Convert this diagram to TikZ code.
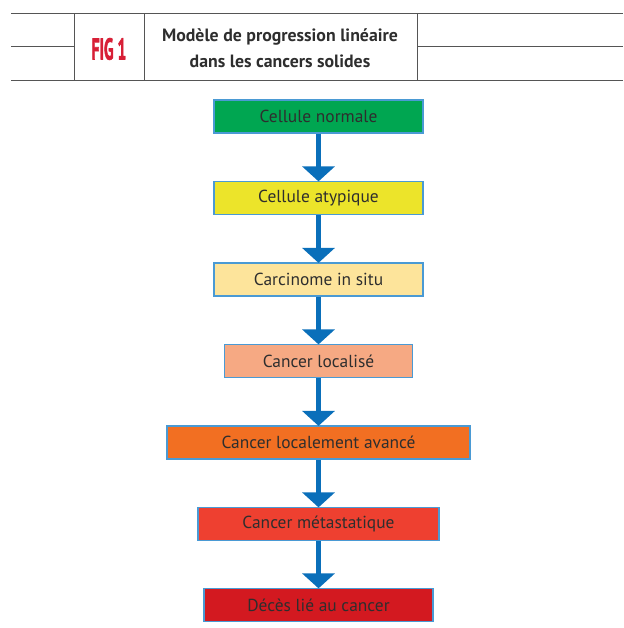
\documentclass[tikz,border=0pt]{standalone}
\usepackage{fontspec}
\setmainfont{PT Sans}
\newfontfamily\figfont[FakeBold=2.5]{PT Sans Bold}
\usetikzlibrary{arrows.meta}
\definecolor{rule}{HTML}{555555}
\definecolor{figred}{HTML}{D71F36}
\definecolor{bordblue}{HTML}{4A9AD4}
\definecolor{arrblue}{HTML}{0A6FBA}
\definecolor{txt}{HTML}{2E2E2E}
\definecolor{c1}{HTML}{00A651}
\definecolor{c2}{HTML}{ECE42A}
\definecolor{c3}{HTML}{FDE49B}
\definecolor{c4}{HTML}{F6A983}
\definecolor{c5}{HTML}{F26F22}
\definecolor{c6}{HTML}{EE4030}
\definecolor{c7}{HTML}{D31920}
\tikzset{
  stage/.style={draw=bordblue, line width=1.2pt, minimum height=33pt, inner sep=0pt,
    text=txt, font=\fontsize{17.4}{19}\selectfont},
  flow/.style={draw=arrblue, line width=5pt,
    -{Triangle[width=32pt,length=15pt]}, shorten >=-0.5pt},
  hrule/.style={draw=rule, line width=1pt}
}
\begin{document}
\begin{tikzpicture}[x=1pt,y=-1pt]
\useasboundingbox (0,0) rectangle (623,628);
% header rules
\draw[hrule] (11,14) -- (623,14);
\draw[hrule] (11,81) -- (623,81);
\draw[hrule] (11,47) -- (74,47);
\draw[hrule] (417,47) -- (623,47);
\draw[hrule] (74,14) -- (74,81);
\draw[hrule] (144,14) -- (144,81);
\draw[hrule] (417,14) -- (417,81);
\node[text=figred, font=\figfont\fontsize{30}{30}\selectfont, inner sep=0pt] (fig) at (109,49) {\scalebox{0.52}[1]{FIG 1}};
\node[text=txt, align=center, font=\fontsize{17.8}{26}\bfseries\selectfont, inner sep=0pt] (title) at (280,48) {Modèle de progression linéaire\\dans les cancers solides};
% stages
\node[stage, fill=c1, minimum width=209pt] (s1) at (318.5,116.5) {Cellule normale};
\node[stage, fill=c2, minimum width=209pt] (s2) at (318.5,198) {Cellule atypique};
\node[stage, fill=c3, minimum width=209pt] (s3) at (318.5,279.5) {Carcinome in situ};
\node[stage, fill=c4, minimum width=188pt] (s4) at (318.5,361) {Cancer localisé};
\node[stage, fill=c5, minimum width=303pt] (s5) at (318.5,442.5) {Cancer localement avancé};
\node[stage, fill=c6, minimum width=241pt] (s6) at (318.5,524) {Cancer métastatique};
\node[stage, fill=c7, minimum width=229pt] (s7) at (318.5,605) {Décès lié au cancer};
% arrows
\foreach \a/\b in {s1/s2,s2/s3,s3/s4,s4/s5,s5/s6,s6/s7}
  \draw[flow] (\a.south) -- (\b.north);
\end{tikzpicture}
\end{document}
